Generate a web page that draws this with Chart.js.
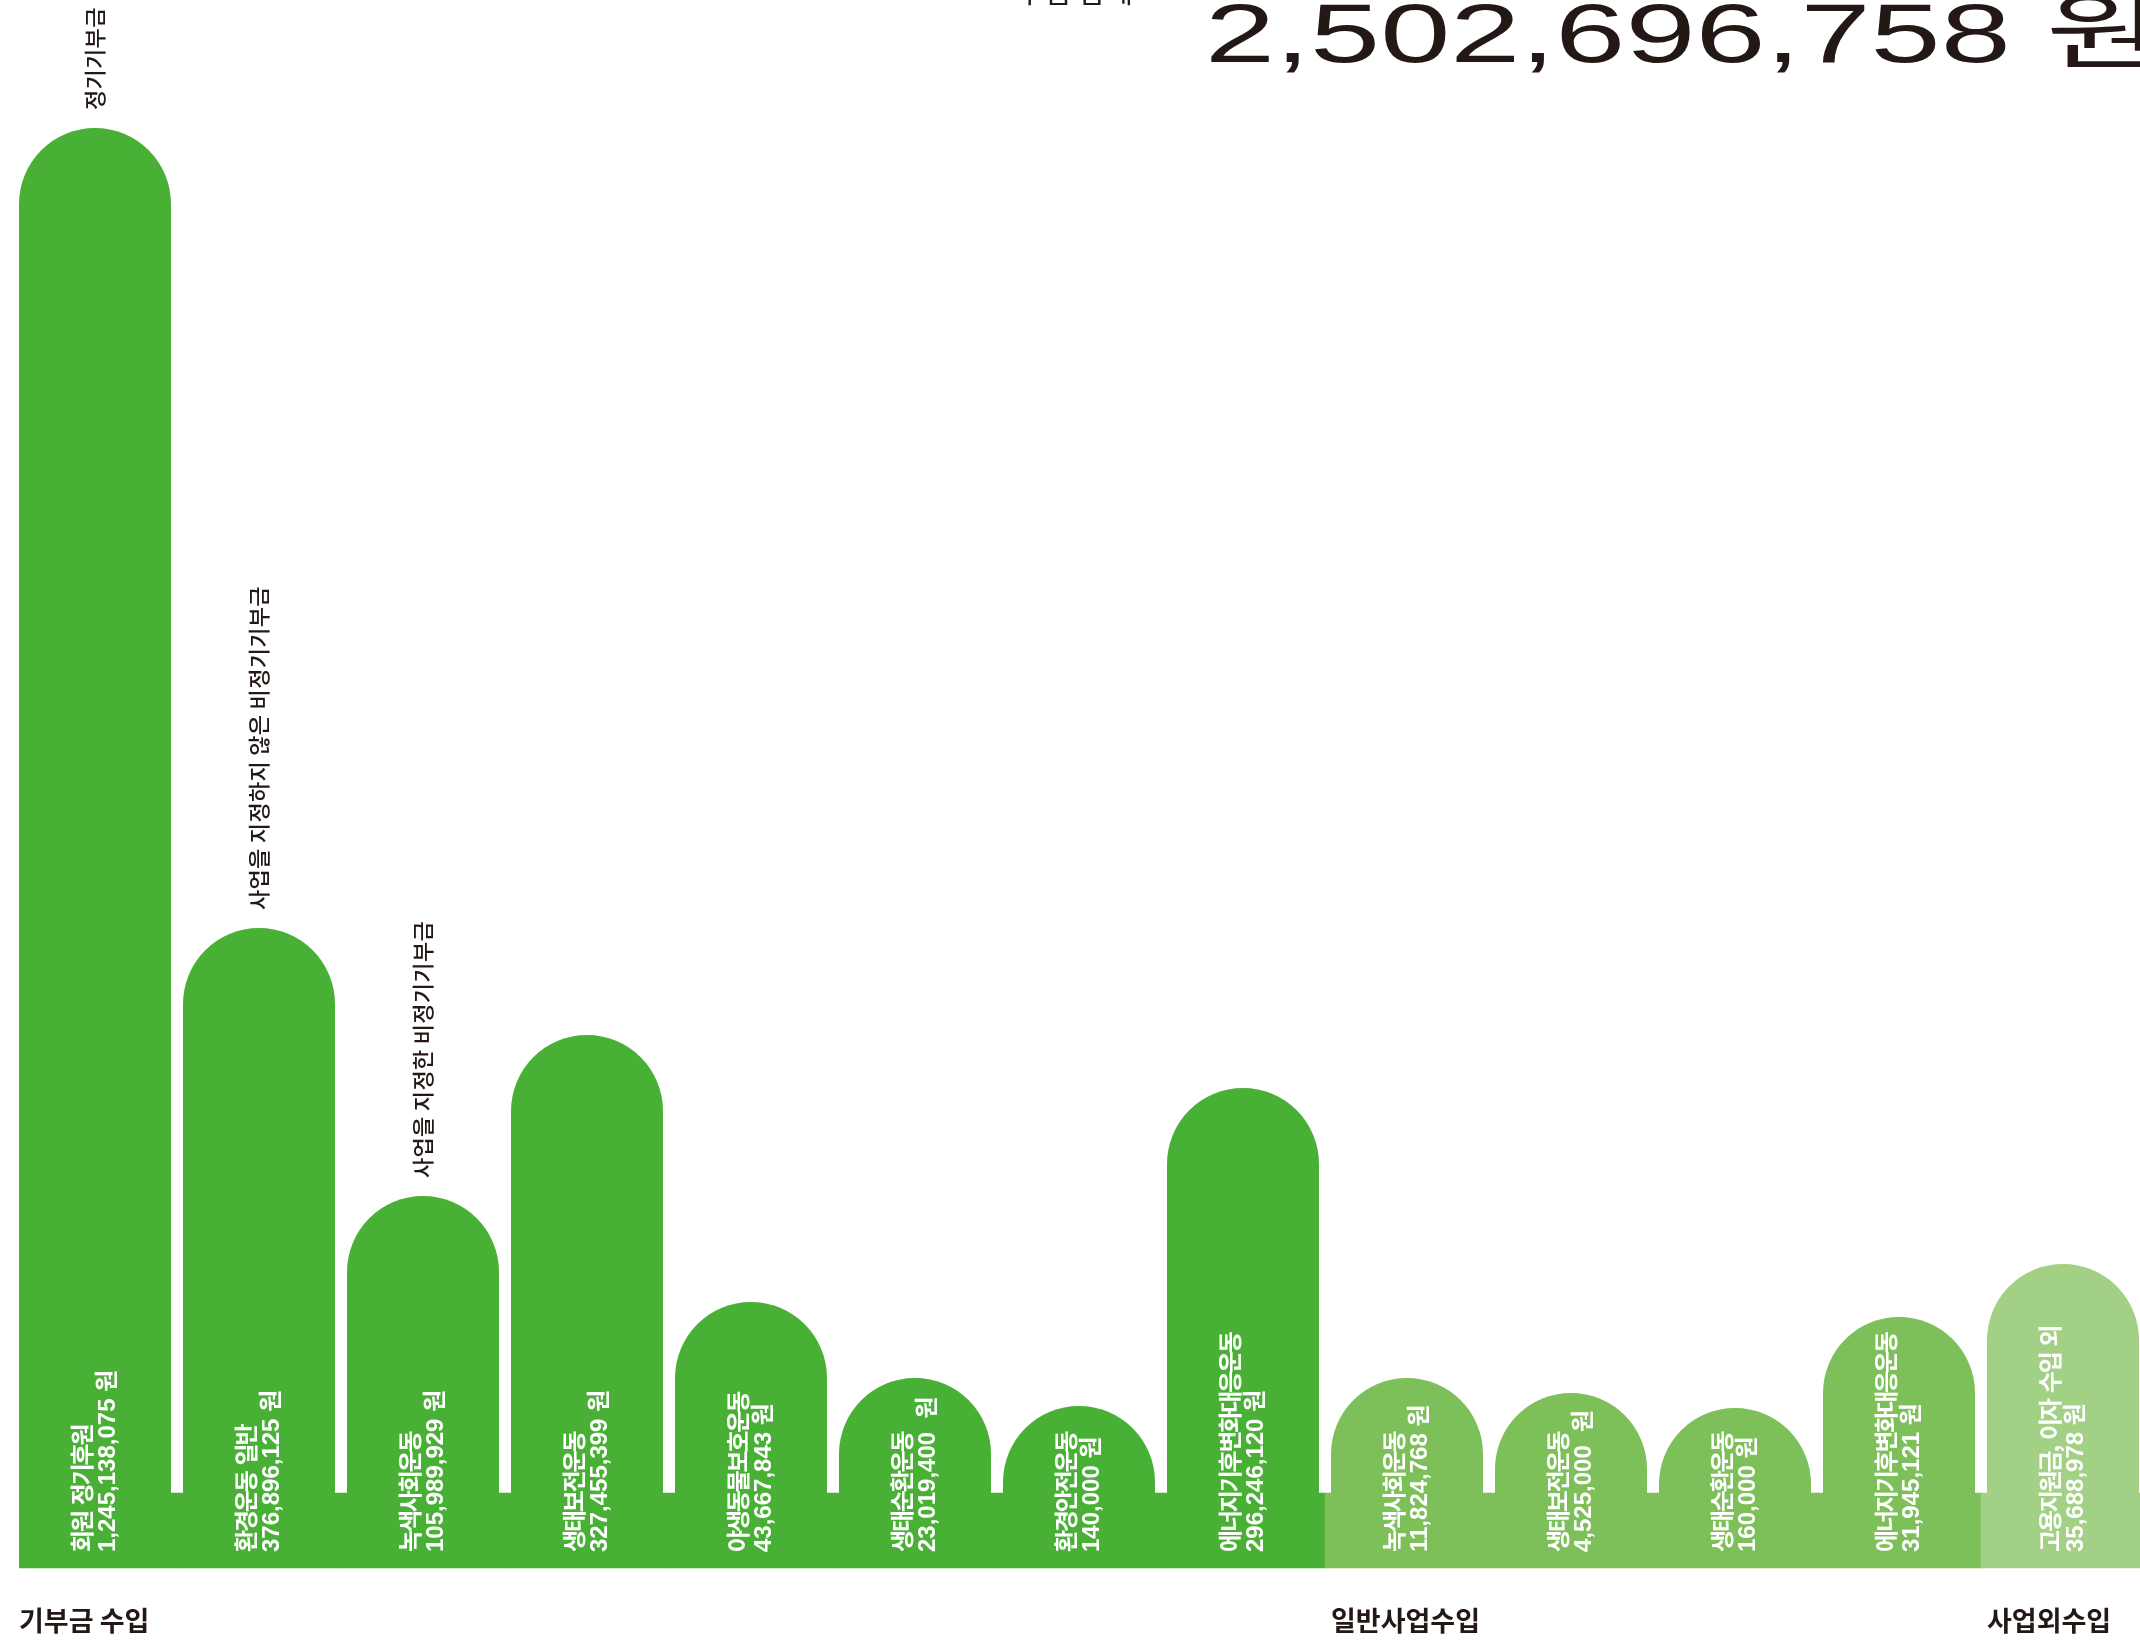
<!DOCTYPE html>
<html lang="ko">
<head>
<meta charset="utf-8">
<title>수입 합계</title>
<script src="https://cdn.jsdelivr.net/npm/chart.js@4.4.1/dist/chart.umd.min.js"></script>
<style>
  html, body { margin: 0; padding: 0; background: #fff; overflow: hidden; }
  #wrap { position: relative; width: 2140px; height: 1643px; overflow: hidden; }
  #incomeChart { position: absolute; left: 0; top: 0; }
</style>
</head>
<body>
<div id="wrap">
  <canvas id="incomeChart" width="2146" height="1643"></canvas>
</div>
<script>
// categories (one bar each)
const categories = [
    '회원 정기후원', '환경운동 일반', '녹색사회운동', '생태보전운동', '야생동물보호운동',
    '생태순환운동', '환경안전운동', '에너지기후변화대응운동',
    '녹색사회운동', '생태보전운동', '생태순환운동', '에너지기후변화대응운동',
    '고용지원금, 이자 수입 외'
];
// amounts as printed in the bars
const amountLabels = [
    '1,245,138,075 원', '376,896,125 원', '105,989,929 원', '327,455,399 원', '43,667,843 원',
    '23,019,400  원', '140,000 원', '296,246,120 원',
    '11,824,768 원', '4,525,000  원', '160,000 원', '31,945,121 원',
    '35,688,978 원'
];
// bar heights as drawn in the picture (not proportional to the amounts)
const barHeights = [1440, 640, 372, 533, 266, 190, 162, 480, 190, 175, 160, 251, 304];
// the flat strip that joins the bars at the bottom
const stripHeights = [75, 75, 75, 75, 75, 75, 75, 75, 75, 75, 75, 75, 75];
// group index of each bar
const groupOf = [0, 0, 0, 0, 0, 0, 0, 0, 1, 1, 1, 1, 2];
const groupNames = ['기부금 수입', '일반사업수입', '사업외수입'];
// notes above the first bars
const topNotes = ['정기기부금', '사업을 지정하지 않은 비정기기부금', '사업을 지정한 비정기기부금'];
const totalText = '2,502,696,758 원';
const totalCaption = '수입 합계';

const groupColors = ['#49b036', '#7dbf59', '#a2d084'];
const inkColor = '#231815';
const barColors = groupOf.map(g => groupColors[g]);

// tight Korean text, but keep a visible gap between words
function fillWords(ctx, text, x, y, gap) {
    let pos = x;
    text.split(' ').forEach(word => {
        ctx.fillText(word, pos, y);
        pos += ctx.measureText(word).width + gap;
    });
}

const labelPlugin = {
    id: 'barLabels',
    afterDatasetsDraw(chart) {
        const ctx = chart.ctx;
        const bars = chart.getDatasetMeta(1).data;

        bars.forEach((bar, i) => {
            // white two-line label inside the bar
            ctx.save();
            ctx.translate(bar.x, bar.base - 16);
            ctx.rotate(-Math.PI / 2);
            ctx.fillStyle = '#ffffff';
            ctx.textAlign = 'left';
            ctx.textBaseline = 'middle';
            ctx.font = "bold 24px 'Noto Sans CJK KR'";
            ctx.letterSpacing = '-2.2px';
            fillWords(ctx, categories[i], 0, -13.5, 7);
            ctx.letterSpacing = '0px';
            ctx.font = "bold 24px 'Liberation Sans', 'Noto Sans CJK KR'";
            ctx.fillText(amountLabels[i], 0, 13.5);
            ctx.restore();

            // dark note above the bar
            if (topNotes[i]) {
                ctx.save();
                ctx.translate(bar.x, bar.y - 18);
                ctx.rotate(-Math.PI / 2);
                ctx.fillStyle = inkColor;
                ctx.textAlign = 'left';
                ctx.textBaseline = 'middle';
                ctx.font = "500 22px 'Noto Sans CJK KR'";
                ctx.letterSpacing = '0.3px';
                ctx.fillText(topNotes[i], 0, 0);
                ctx.restore();
            }
        });

        // group names under the strip, at the left edge of each group's first bar
        ctx.save();
        ctx.fillStyle = inkColor;
        ctx.textAlign = 'left';
        ctx.textBaseline = 'alphabetic';
        ctx.font = "bold 27px 'Noto Sans CJK KR'";
        groupNames.forEach((name, g) => {
            const first = groupOf.indexOf(g);
            const bar = bars[first];
            ctx.fillText(name, bar.x - bar.width / 2, 1631);
        });
        ctx.restore();
    },
    afterDraw(chart) {
        const ctx = chart.ctx;
        ctx.save();
        ctx.fillStyle = inkColor;
        ctx.textAlign = 'left';
        ctx.textBaseline = 'alphabetic';
        ctx.font = "30px 'Noto Sans CJK KR'";
        ctx.fillText(totalCaption, 1016, 2);
        // the big total is set in a horizontally stretched face
        ctx.translate(1205, 62);
        ctx.scale(1.5, 1);
        ctx.font = "84px 'Liberation Sans', 'Noto Sans CJK KR'";
        ctx.fillText(totalText, 0, 0);
        ctx.restore();
    }
};

const ctx = document.getElementById('incomeChart').getContext('2d');
new Chart(ctx, {
    type: 'bar',
    data: {
        labels: categories,
        datasets: [
            {
                label: 'strip',
                data: stripHeights,
                backgroundColor: barColors,
                borderWidth: 0,
                grouped: false,
                barPercentage: 1,
                categoryPercentage: 1,
                // strip starts flush with the first bar's left edge
                clip: { left: -6, right: false, top: false, bottom: false },
                order: 2
            },
            {
                label: '수입',
                data: barHeights,
                backgroundColor: barColors,
                borderWidth: 0,
                borderSkipped: 'start',
                borderRadius: { topLeft: 76, topRight: 76, bottomLeft: 0, bottomRight: 0 },
                grouped: false,
                barPercentage: 152 / 164,
                categoryPercentage: 1,
                order: 1
            }
        ]
    },
    options: {
        responsive: false,
        maintainAspectRatio: false,
        devicePixelRatio: 1,
        animation: false,
        layout: { padding: { left: 13, right: 1, top: 0, bottom: 75 } },
        plugins: { legend: { display: false }, tooltip: { enabled: false } },
        scales: {
            x: { display: false, offset: true, grid: { display: false } },
            y: { display: false, min: 0, max: 1568, grid: { display: false } }
        }
    },
    plugins: [labelPlugin]
});
</script>
</body>
</html>
